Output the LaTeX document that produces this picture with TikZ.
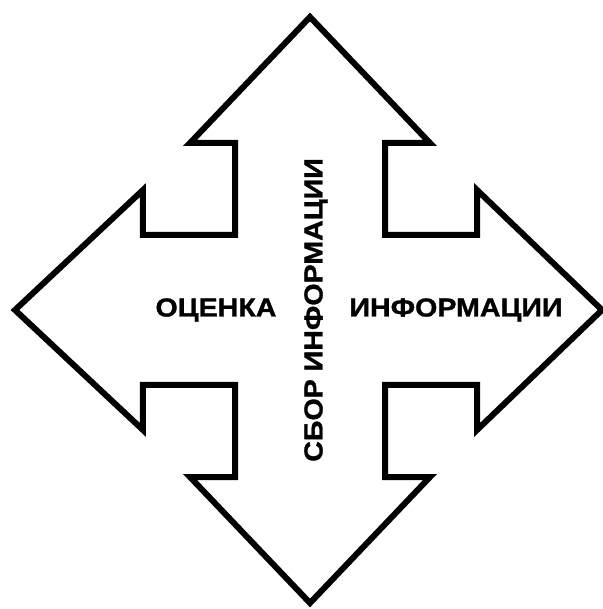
\documentclass[tikz,border=0pt]{standalone}
\usepackage{fontspec}
\newfontfamily\lblfont[FakeStretch=1.1, BoldFeatures={FakeBold=1.2}]{Liberation Sans}
\usetikzlibrary{positioning}

\begin{document}
\begin{tikzpicture}[
            x=1pt, y=1pt,
            outline/.style={draw=black, line width=6pt, line join=miter, miter limit=20},
            lbl/.style={font=\lblfont\bfseries\fontsize{26}{26}\selectfont, inner sep=0pt, anchor=center}
        ]
            % --- Frame ---
            \useasboundingbox (-310,-299) rectangle (292,310);

            % --- Four-way arrow ---
            \draw[outline]
              (-75,75) -- (-75,167) -- (-120,167) -- (0,293) -- (120,167) -- (75,167) -- (75,75)
              -- (167,75) -- (167,120) -- (292,0) -- (167,-120) -- (167,-75) -- (75,-75)
              -- (75,-167) -- (120,-167) -- (0,-293) -- (-120,-167) -- (-75,-167) -- (-75,-75)
              -- (-167,-75) -- (-167,-120) -- (-295,0) -- (-167,120) -- (-167,75) -- cycle;

            % --- Labels ---
            \node[lbl] (collect) at (6,0) [rotate=90] {СБОР ИНФОРМАЦИИ};
            \node[lbl] (assess) at (-94,0) {ОЦЕНКА};
            \node[lbl] (info) at (146,0) {ИНФОРМАЦИИ};

        \end{tikzpicture}
\end{document}
